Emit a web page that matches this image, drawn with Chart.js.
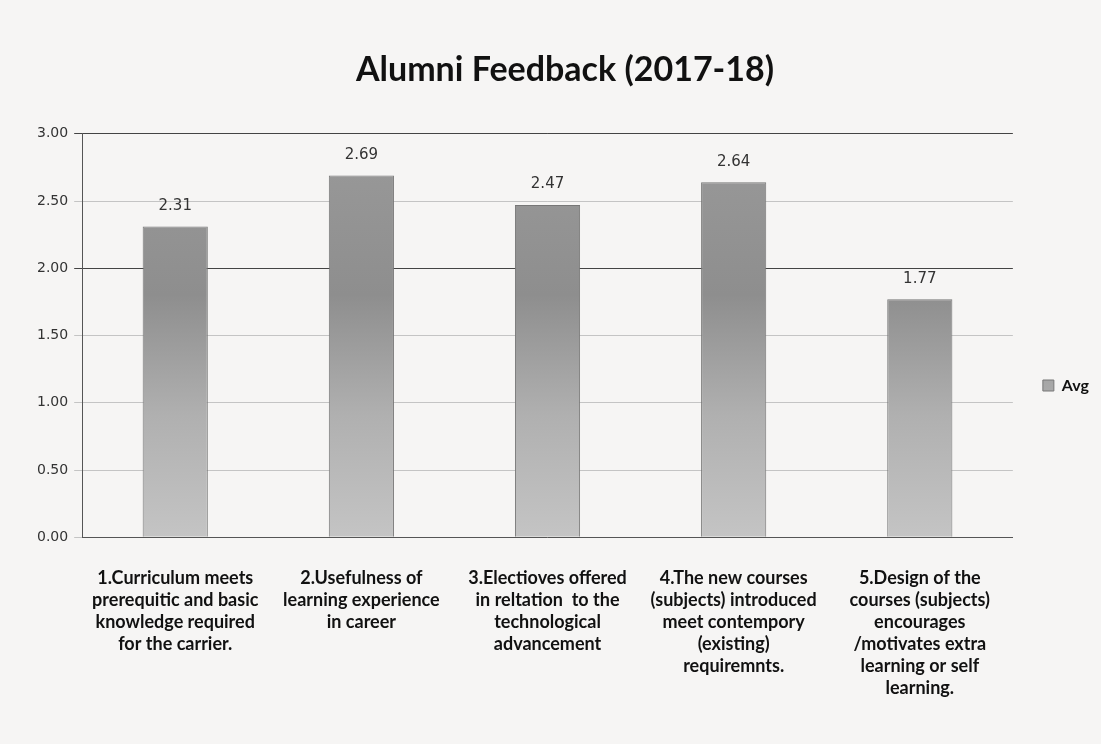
<!DOCTYPE html>
<html>
<head>
<meta charset="utf-8">
<script src="https://cdn.jsdelivr.net/npm/chart.js@4/dist/chart.umd.min.js"></script>
<style>
	body { margin: 0; background: #f6f5f4; }
	#wrap { width: 1101px; height: 744px; position: relative; }
</style>
</head>
<body>
<div id="wrap"><canvas id="chart" width="1101" height="744"></canvas></div>
<script>
const categories = [
	['1.Curriculum meets', 'prerequitic and basic', 'knowledge required', 'for the carrier.'],
	['2.Usefulness of', 'learning experience', 'in career'],
	['3.Electioves offered', 'in reltation  to the', 'technological', 'advancement'],
	['4.The new courses', '(subjects) introduced', 'meet contempory', '(existing)', 'requiremnts.'],
	['5.Design of the', 'courses (subjects)', 'encourages', '/motivates extra', 'learning or self', 'learning.']
];
const avg = [2.31, 2.69, 2.47, 2.64, 1.77];
const yTicks = [0, 0.5, 1, 1.5, 2, 2.5, 3];

const valueLabels = {
	id: 'valueLabels',
	afterDatasetsDraw(chart) {
		const ctx = chart.ctx;
		const meta = chart.getDatasetMeta(0);
		ctx.save();
		ctx.font = '15px "DejaVu Sans"';
		ctx.fillStyle = '#333';
		ctx.textAlign = 'center';
		ctx.textBaseline = 'bottom';
		meta.data.forEach((bar, i) => {
			ctx.fillText(avg[i].toFixed(2), bar.x, bar.y - 13);
		});
		ctx.restore();
	}
};

const ctx = document.getElementById('chart').getContext('2d');
const grad = ctx.createLinearGradient(0, 133, 0, 537);
grad.addColorStop(0, '#9a9a9a');
grad.addColorStop(0.4, '#8e8e8e');
grad.addColorStop(0.7, '#b0b0b0');
grad.addColorStop(1, '#c4c4c4');

new Chart(ctx, {
	type: 'bar',
	data: {
		labels: categories,
		datasets: [{
			label: 'Avg',
			data: avg,
			backgroundColor: grad,
			borderColor: '#777',
			borderWidth: 1,
			barPercentage: 0.7,
			categoryPercentage: 0.5
		}]
	},
	options: {
		responsive: false,
		animation: false,
		layout: { padding: { left: 31, right: 2, top: 50, bottom: 23 } },
		plugins: {
			title: {
				display: true,
				text: 'Alumni Feedback (2017-18)',
				color: '#111',
				font: { family: 'Lato', size: 34, weight: 'bold' },
				padding: { top: 0, bottom: 43 }
			},
			legend: {
				position: 'right',
				labels: {
					boxWidth: 11,
					boxHeight: 11,
					color: '#111',
					font: { family: 'Lato', size: 16, weight: 'bold' },
					padding: 30
				}
			},
			tooltip: { enabled: false }
		},
		scales: {
			x: {
				grid: { display: false },
				border: { color: '#555' },
				ticks: {
					color: '#111',
					maxRotation: 0,
					autoSkip: false,
					font: { family: 'Lato', size: 18, weight: 'bold', lineHeight: 1.22 },
					padding: 22
				}
			},
			y: {
				min: 0,
				max: 3,
				afterBuildTicks(axis) {
					axis.ticks = yTicks.map(v => ({ value: v }));
				},
				grid: {
					color: c => (c.tick && (c.tick.value === 2 || c.tick.value === 3)) ? '#444' : '#c4c4c4',
					tickLength: 8
				},
				border: { color: '#555' },
				ticks: {
					color: '#333',
					font: { family: 'DejaVu Sans', size: 14 },
					padding: 6,
					callback: v => v.toFixed(2)
				}
			}
		}
	},
	plugins: [valueLabels]
});
</script>
</body>
</html>
